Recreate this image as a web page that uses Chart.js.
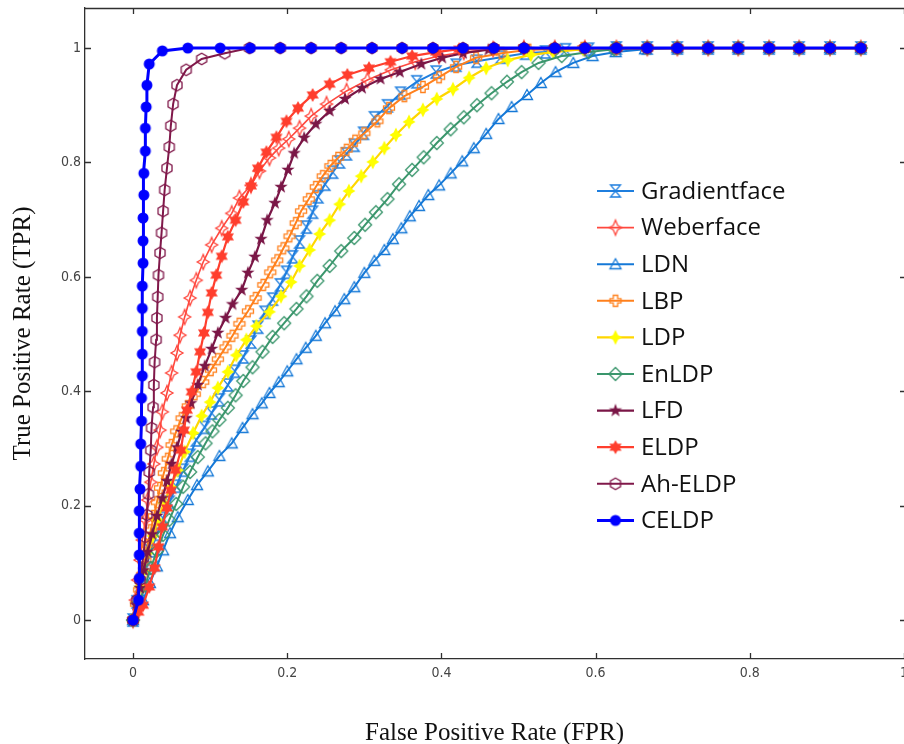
<!DOCTYPE html>
<html>
<head>
<meta charset="utf-8">
<script src="https://cdn.jsdelivr.net/npm/chart.js@4.4.1/dist/chart.umd.min.js"></script>
<style>
  html, body { margin: 0; padding: 0; background: #fff; }
</style>
</head>
<body>
<canvas id="roc" width="904" height="744"></canvas>
<script>
// ---- data ----
const xTicks = [0, 0.2, 0.4, 0.6, 0.8, 1];
const yTicks = [0, 0.2, 0.4, 0.6, 0.8, 1];
const methods = ['Gradientface', 'Weberface', 'LDN', 'LBP', 'LDP', 'EnLDP', 'LFD', 'ELDP', 'Ah-ELDP', 'CELDP'];

// x positions of the markers on the TPR = 1 plateau
const plateauFPR = [0.071, 0.113, 0.152, 0.191, 0.231, 0.270, 0.310, 0.349, 0.389, 0.428, 0.468, 0.507,
  0.547, 0.586, 0.627, 0.667, 0.706, 0.746, 0.785, 0.825, 0.864, 0.904, 0.944];

const gradientface = [[0,0],[0.005,0.032],[0.010,0.061],[0.017,0.091],[0.023,0.121],[0.031,0.150],[0.039,0.178],
  [0.047,0.206],[0.056,0.234],[0.065,0.262],[0.074,0.288],[0.082,0.315],[0.093,0.337],[0.102,0.362],[0.112,0.385],
  [0.123,0.411],[0.132,0.435],[0.143,0.460],[0.153,0.486],[0.162,0.512],[0.171,0.538],[0.181,0.561],[0.191,0.586],
  [0.199,0.608],[0.207,0.635],[0.216,0.661],[0.225,0.687],[0.233,0.713],[0.240,0.740],[0.249,0.762],[0.259,0.783],
  [0.268,0.801],[0.277,0.815],[0.287,0.830],[0.299,0.851],[0.313,0.878],[0.330,0.899],[0.347,0.921],[0.368,0.941],
  [0.393,0.958],[0.419,0.970],[0.446,0.977],[0.477,0.984],[0.509,0.991],[0.535,0.993],[0.561,0.997],[0.591,0.998]];

const weberface = [[0,0],[0.003,0.035],[0.006,0.070],[0.009,0.105],[0.012,0.140],[0.016,0.175],[0.019,0.210],
  [0.023,0.241],[0.027,0.273],[0.031,0.302],[0.035,0.332],[0.038,0.364],[0.044,0.397],[0.050,0.432],[0.057,0.467],
  [0.061,0.498],[0.067,0.530],[0.074,0.563],[0.082,0.594],[0.091,0.626],[0.102,0.656],[0.115,0.685],[0.128,0.711],
  [0.138,0.738],[0.153,0.760],[0.164,0.785],[0.177,0.808],[0.189,0.825],[0.202,0.841],[0.216,0.860],[0.231,0.881],
  [0.251,0.902],[0.277,0.925],[0.304,0.944],[0.335,0.962],[0.366,0.976],[0.397,0.986],[0.429,0.993],[0.467,0.998]];

const ldn = [[0,0],[0.013,0.035],[0.022,0.065],[0.031,0.094],[0.039,0.122],[0.048,0.152],[0.058,0.180],[0.071,0.210],
  [0.083,0.236],[0.097,0.260],[0.112,0.287],[0.128,0.309],[0.142,0.336],[0.155,0.360],[0.167,0.379],[0.177,0.397],
  [0.189,0.416],[0.200,0.435],[0.212,0.456],[0.224,0.476],[0.237,0.497],[0.249,0.519],[0.262,0.540],[0.274,0.561],
  [0.287,0.582],[0.300,0.607],[0.313,0.628],[0.326,0.647],[0.337,0.666],[0.348,0.685],[0.359,0.706],[0.371,0.724],
  [0.383,0.743],[0.397,0.760],[0.412,0.781],[0.427,0.802],[0.442,0.825],[0.458,0.850],[0.474,0.876],[0.491,0.897],
  [0.511,0.918],[0.529,0.939],[0.548,0.958],[0.571,0.974],[0.596,0.986],[0.626,0.993],[0.664,0.998]];

const lbp = [[0,0],[0.004,0.028],[0.008,0.053],[0.012,0.079],[0.016,0.105],[0.019,0.131],[0.023,0.157],[0.027,0.182],
  [0.031,0.206],[0.035,0.231],[0.040,0.257],[0.045,0.282],[0.050,0.306],[0.056,0.330],[0.063,0.353],[0.071,0.374],
  [0.080,0.395],[0.091,0.416],[0.101,0.437],[0.110,0.456],[0.120,0.477],[0.129,0.497],[0.138,0.518],[0.149,0.540],
  [0.159,0.563],[0.169,0.586],[0.178,0.608],[0.187,0.629],[0.195,0.650],[0.203,0.671],[0.211,0.694],[0.218,0.715],
  [0.228,0.736],[0.237,0.757],[0.246,0.776],[0.256,0.794],[0.266,0.808],[0.277,0.822],[0.288,0.838],[0.300,0.851],
  [0.317,0.872],[0.332,0.895],[0.352,0.916],[0.376,0.932],[0.397,0.949],[0.419,0.967],[0.445,0.983],[0.478,0.991],
  [0.513,0.997],[0.545,0.998],[0.584,1.0]];

const ldp = [[0,0],[0.005,0.032],[0.009,0.059],[0.014,0.087],[0.019,0.117],[0.026,0.147],[0.032,0.175],[0.040,0.205],
  [0.049,0.233],[0.058,0.262],[0.067,0.294],[0.078,0.327],[0.089,0.357],[0.100,0.381],[0.110,0.406],[0.123,0.434],
  [0.134,0.463],[0.147,0.490],[0.160,0.514],[0.177,0.539],[0.192,0.566],[0.205,0.591],[0.216,0.619],[0.229,0.647],
  [0.242,0.675],[0.255,0.699],[0.268,0.727],[0.280,0.750],[0.296,0.776],[0.311,0.801],[0.326,0.825],[0.341,0.848],
  [0.358,0.871],[0.376,0.892],[0.394,0.911],[0.415,0.928],[0.436,0.948],[0.458,0.965],[0.486,0.979],[0.516,0.988],
  [0.545,0.993],[0.584,0.998]];

const enldp = [[0,0],[0.008,0.030],[0.016,0.061],[0.023,0.091],[0.031,0.121],[0.039,0.149],[0.047,0.175],[0.056,0.203],
  [0.065,0.233],[0.074,0.259],[0.084,0.285],[0.094,0.309],[0.103,0.330],[0.112,0.350],[0.123,0.371],[0.133,0.393],
  [0.143,0.418],[0.155,0.442],[0.168,0.469],[0.181,0.495],[0.196,0.519],[0.212,0.544],[0.225,0.566],[0.239,0.593],
  [0.255,0.619],[0.270,0.645],[0.287,0.668],[0.301,0.691],[0.315,0.713],[0.330,0.736],[0.345,0.762],[0.362,0.787],
  [0.377,0.809],[0.394,0.834],[0.412,0.858],[0.429,0.879],[0.446,0.900],[0.465,0.921],[0.485,0.941],[0.504,0.958],
  [0.526,0.974],[0.556,0.986],[0.591,0.993],[0.624,0.998]];

const lfd = [[0,0],[0.004,0.026],[0.009,0.056],[0.014,0.087],[0.019,0.119],[0.025,0.150],[0.031,0.182],[0.038,0.213],
  [0.044,0.243],[0.050,0.273],[0.057,0.302],[0.063,0.329],[0.069,0.353],[0.075,0.379],[0.084,0.411],[0.093,0.444],
  [0.102,0.474],[0.110,0.502],[0.120,0.528],[0.129,0.552],[0.141,0.577],[0.149,0.607],[0.158,0.635],[0.166,0.666],
  [0.174,0.699],[0.184,0.729],[0.192,0.757],[0.201,0.787],[0.209,0.816],[0.222,0.843],[0.237,0.867],[0.255,0.890],
  [0.275,0.911],[0.297,0.930],[0.321,0.946],[0.346,0.958],[0.374,0.972],[0.401,0.983],[0.428,0.991],[0.461,0.997]];

const eldp = [[0,0],[0.007,0.014],[0.013,0.026],[0.021,0.058],[0.028,0.091],[0.033,0.128],[0.038,0.163],[0.044,0.196],
  [0.049,0.227],[0.055,0.262],[0.062,0.297],[0.066,0.332],[0.070,0.367],[0.076,0.399],[0.082,0.434],[0.087,0.469],
  [0.092,0.502],[0.097,0.538],[0.102,0.572],[0.108,0.603],[0.115,0.636],[0.123,0.670],[0.133,0.699],[0.143,0.731],
  [0.153,0.759],[0.162,0.790],[0.173,0.818],[0.186,0.844],[0.199,0.872],[0.214,0.895],[0.233,0.918],[0.255,0.937],
  [0.278,0.953],[0.306,0.965],[0.334,0.976],[0.362,0.986],[0.393,0.993],[0.423,0.998]];

const ahEldp = [[0,0],[0.005,0.035],[0.009,0.070],[0.013,0.108],[0.016,0.145],[0.018,0.184],[0.020,0.220],[0.021,0.259],
  [0.023,0.297],[0.024,0.336],[0.026,0.372],[0.027,0.411],[0.028,0.451],[0.030,0.490],[0.031,0.528],[0.032,0.565],
  [0.033,0.603],[0.035,0.642],[0.037,0.677],[0.039,0.715],[0.041,0.752],[0.044,0.790],[0.047,0.827],[0.049,0.864],
  [0.052,0.902],[0.057,0.935],[0.069,0.962],[0.089,0.981],[0.119,0.991],[0.151,1.0]];

const celdp = [[0,0],[0.007,0.035],[0.008,0.073],[0.008,0.114],[0.008,0.152],[0.008,0.191],[0.009,0.229],[0.010,0.269],
  [0.010,0.308],[0.011,0.348],[0.011,0.388],[0.012,0.427],[0.012,0.465],[0.012,0.505],[0.012,0.545],[0.012,0.584],
  [0.013,0.624],[0.013,0.663],[0.013,0.703],[0.014,0.743],[0.014,0.781],[0.016,0.820],[0.016,0.860],[0.017,0.897],
  [0.018,0.935],[0.021,0.972],[0.038,0.995]];

const allCurves = [gradientface, weberface, ldn, lbp, ldp, enldp, lfd, eldp, ahEldp, celdp];

// ---- styles ----
const lineColors = ['rgb(30,126,222)', 'rgb(255,72,62)', 'rgb(20,120,215)', 'rgb(255,128,28)', 'rgb(255,214,0)',
  'rgb(58,150,108)', 'rgb(122,22,70)', 'rgb(255,62,45)', 'rgb(128,24,74)', 'rgb(0,0,255)'];
const lineWidths = [2, 1.6, 2, 2, 2.2, 2, 2.2, 2.2, 2, 3];
const markerKinds = ['hourglass', 'concave', 'triangle', 'plus', 'star4', 'diamond', 'star5', 'hexagram', 'hexagon', 'circle'];

function polygon(g, pts) {
  g.moveTo(pts[0][0], pts[0][1]);
  for (let i = 1; i < pts.length; i++) g.lineTo(pts[i][0], pts[i][1]);
  g.closePath();
}

function starPts(n, ro, ri, start) {
  const p = [];
  for (let i = 0; i < n * 2; i++) {
    const r = i % 2 === 0 ? ro : ri;
    const a = start + i * Math.PI / n;
    p.push([r * Math.cos(a), r * Math.sin(a)]);
  }
  return p;
}

function makeMarker(kind, color) {
  const s = 20;
  const c = document.createElement('canvas');
  c.width = s; c.height = s;
  const g = c.getContext('2d');
  g.translate(s / 2, s / 2);
  g.strokeStyle = color;
  g.fillStyle = color;
  g.lineWidth = 1.3;
  g.beginPath();
  let filled = false;
  switch (kind) {
    case 'hourglass':
      polygon(g, [[-5, -6], [5, -6], [-5, 6], [5, 6]]);
      break;
    case 'concave':
      polygon(g, [[0, -7.5], [2.2, -2.2], [6, 0], [2.2, 2.2], [0, 7.5], [-2.2, 2.2], [-6, 0], [-2.2, -2.2]]);
      break;
    case 'triangle':
      polygon(g, [[0, -5.5], [5.5, 4.5], [-5.5, 4.5]]);
      break;
    case 'plus': {
      const a = 5.5, w = 2.2;
      polygon(g, [[-w, -a], [w, -a], [w, -w], [a, -w], [a, w], [w, w], [w, a], [-w, a], [-w, w], [-a, w], [-a, -w], [-w, -w]]);
      break;
    }
    case 'star4':
      polygon(g, [[0, -7.5], [2.4, -2.4], [6.5, 0], [2.4, 2.4], [0, 7.5], [-2.4, 2.4], [-6.5, 0], [-2.4, -2.4]]);
      g.fillStyle = 'rgb(255,255,0)';
      filled = true;
      break;
    case 'diamond':
      polygon(g, [[0, -6.5], [6.5, 0], [0, 6.5], [-6.5, 0]]);
      break;
    case 'star5':
      polygon(g, starPts(5, 7, 2.8, -Math.PI / 2));
      filled = true;
      break;
    case 'hexagram':
      polygon(g, starPts(6, 7, 4, -Math.PI / 2));
      filled = true;
      break;
    case 'hexagon':
      polygon(g, starPts(3, 5.8, 5.8, -Math.PI / 2));
      break;
    case 'circle':
      g.arc(0, 0, 5.5, 0, Math.PI * 2);
      filled = true;
      break;
  }
  if (filled) g.fill(); else g.stroke();
  return c;
}

const markers = markerKinds.map((k, i) => makeMarker(k, lineColors[i]));

// each curve ends on the plateau markers to the right of its last point
function withPlateau(curve) {
  const lastX = curve[curve.length - 1][0];
  const pts = curve.map(p => ({ x: p[0], y: p[1] }));
  plateauFPR.filter(x => x > lastX + 0.01).forEach(x => pts.push({ x: x, y: 1 }));
  return pts;
}

const datasets = methods.map((name, i) => ({
  label: name,
  data: withPlateau(allCurves[i]),
  showLine: true,
  borderColor: lineColors[i],
  backgroundColor: lineColors[i],
  borderWidth: lineWidths[i],
  pointStyle: markers[i],
  pointRadius: 5,
  tension: 0,
  order: methods.length - i
}));

// inward tick marks, top border and the legend inside the axes
const boxPlugin = {
  id: 'box',
  afterDatasetsDraw(chart) {
    const { ctx, chartArea: a, scales } = chart;
    ctx.save();
    ctx.strokeStyle = '#303030';
    ctx.lineWidth = 1.3;
    ctx.beginPath();
    ctx.moveTo(a.left, a.top + 0.5);
    ctx.lineTo(a.right, a.top + 0.5);
    xTicks.forEach(v => {
      const px = Math.round(scales.x.getPixelForValue(v)) + 0.5;
      ctx.moveTo(px, a.bottom); ctx.lineTo(px, a.bottom - 6);
      ctx.moveTo(px, a.top); ctx.lineTo(px, a.top + 6);
    });
    yTicks.forEach(v => {
      const py = Math.round(scales.y.getPixelForValue(v)) + 0.5;
      ctx.moveTo(a.left, py); ctx.lineTo(a.left + 6, py);
      ctx.moveTo(a.right, py); ctx.lineTo(a.right - 4, py);
    });
    ctx.stroke();

    // legend
    ctx.font = '24px "Open Sans"';
    ctx.textBaseline = 'middle';
    ctx.textAlign = 'left';
    chart.data.datasets.forEach((ds, i) => {
      const y = 191 + i * 36.6;
      ctx.strokeStyle = ds.borderColor;
      ctx.lineWidth = ds.borderWidth;
      ctx.beginPath();
      ctx.moveTo(597, y); ctx.lineTo(634, y);
      ctx.stroke();
      ctx.drawImage(ds.pointStyle, 615.5 - 10, y - 10);
      ctx.fillStyle = '#111';
      ctx.fillText(ds.label, 641, y + 1);
    });
    ctx.restore();
  }
};

const tickFont = { family: '"Liberation Sans Narrow", "DejaVu Sans Condensed", sans-serif', size: 14 };

new Chart(document.getElementById('roc'), {
  type: 'scatter',
  data: { datasets: datasets },
  plugins: [boxPlugin],
  options: {
    responsive: false,
    animation: false,
    events: [],
    layout: { autoPadding: false, padding: { top: 8, right: 0, left: 0, bottom: 0 } },
    plugins: { legend: { display: false }, tooltip: { enabled: false } },
    scales: {
      x: {
        type: 'linear',
        min: -0.0623,
        max: 1.0,
        afterBuildTicks: s => { s.ticks = xTicks.map(v => ({ value: v })); },
        afterFit: s => { s.height = 85; s.paddingLeft = 0; s.paddingRight = 0; },
        grid: { display: false, drawTicks: false },
        border: { display: true, color: '#303030', width: 1.3 },
        ticks: { color: '#444', font: tickFont, padding: 6, maxRotation: 0, callback: v => String(v) },
        title: {
          display: true,
          text: 'False Positive Rate (FPR)',
          color: '#111',
          font: { family: '"Liberation Serif", serif', size: 25, lineHeight: 0.88 },
          padding: 0
        }
      },
      y: {
        type: 'linear',
        min: -0.068,
        max: 1.07,
        afterBuildTicks: s => { s.ticks = yTicks.map(v => ({ value: v })); },
        afterFit: s => { s.width = 85; s.paddingTop = 0; s.paddingBottom = 0; },
        grid: { display: false, drawTicks: false },
        border: { display: true, color: '#303030', width: 1.3 },
        ticks: { color: '#444', font: tickFont, padding: 4, callback: v => String(v) },
        title: {
          display: true,
          text: 'True Positive Rate (TPR)',
          color: '#111',
          font: { family: '"Liberation Serif", serif', size: 25, lineHeight: 1.2 },
          padding: { top: 8, bottom: 0 }
        }
      }
    }
  }
});
</script>
</body>
</html>
